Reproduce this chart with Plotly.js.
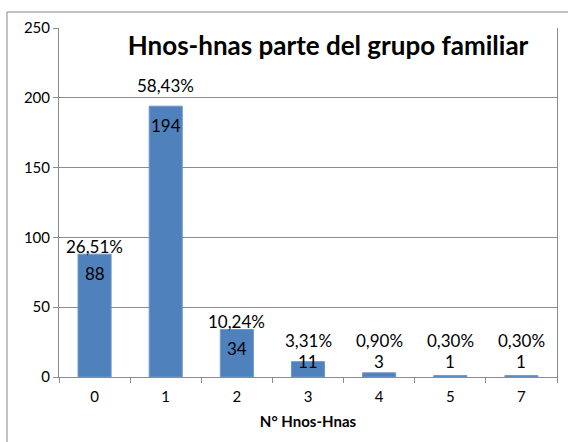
<!DOCTYPE html>
<html>
<head>
<meta charset="utf-8">
<script src="https://cdn.plot.ly/plotly-3.0.1.min.js"></script>
<style>
html,body{margin:0;padding:0;background:#fff;}
#chart{width:568px;height:442px;}
</style>
</head>
<body>
<div id="chart"></div>
<script>
// ---- data ----
const categories = ["0", "1", "2", "3", "4", "5", "7"];
const counts = [88, 194, 34, 11, 3, 1, 1];
const percentLabels = ["26,51%", "58,43%", "10,24%", "3,31%", "0,90%", "0,30%", "0,30%"];
const yTickValues = [0, 50, 100, 150, 200, 250];

const W = 568, H = 442;
const M = {l: 59, r: 11, t: 28, b: 65};
const plotW = W - M.l - M.r;
const plotH = H - M.t - M.b;
const yMax = 250;
const ppu = plotH / yMax;
const FONT = "Lato, 'Open Sans', sans-serif";

const annotations = [];
categories.forEach((c, i) => {
  const topPx = counts[i] * ppu;
  const countShift = Math.max(-19, 15 - topPx);
  annotations.push({
    x: i, y: counts[i], xref: 'x', yref: 'y',
    text: String(counts[i]), showarrow: false,
    yanchor: 'middle', yshift: countShift,
    font: {family: FONT, size: 17, color: '#000'}
  });
  const countCenter = topPx + countShift;
  let pctCenter = Math.max(topPx + 8, countCenter + 21);
  // keep the percentage label clear of a gridline crossing its middle (place it just above)
  yTickValues.forEach(v => {
    const g = v * ppu;
    if (Math.abs(pctCenter - g) < 5) pctCenter = g + 12;
  });
  annotations.push({
    x: i, y: counts[i], xref: 'x', yref: 'y',
    text: percentLabels[i], showarrow: false,
    yanchor: 'middle', yshift: pctCenter - topPx,
    font: {family: FONT, size: 17, color: '#000'}
  });
});

const trace = {
  type: 'bar',
  x: categories,
  y: counts,
  width: 0.465,
  marker: {color: '#4F81BD', line: {color: '#6E98CC', width: 1}},
  hoverinfo: 'none'
};

const layout = {
  width: W, height: H,
  margin: {l: M.l, r: M.r, t: M.t, b: M.b, pad: 0},
  paper_bgcolor: 'rgba(0,0,0,0)',
  plot_bgcolor: '#fff',
  showlegend: false,
  bargap: 0,
  title: {
    text: '<b>Hnos-hnas parte del grupo familiar</b>',
    font: {family: FONT, size: 26, color: '#000'},
    x: 328 / W, xref: 'container', xanchor: 'center',
    y: 1 - 46 / H, yref: 'container', yanchor: 'middle'
  },
  xaxis: {
    type: 'category',
    range: [-0.5, categories.length - 0.5],
    showline: true, linecolor: '#8c8c8c', linewidth: 1,
    ticks: 'outside', tickson: 'boundaries', ticklen: 5, tickcolor: '#8c8c8c',
    ticklabelstandoff: 6,
    tickfont: {family: FONT, size: 15, color: '#000'},
    showgrid: false, zeroline: false,
    title: {text: '<b>N° Hnos-Hnas</b>', font: {family: FONT, size: 15, color: '#000'}, standoff: 12}
  },
  yaxis: {
    range: [0, yMax], tickvals: yTickValues,
    showline: true, mirror: true, linecolor: '#8c8c8c', linewidth: 1,
    ticks: 'outside', ticklen: 5, tickcolor: '#8c8c8c',
    tickfont: {family: FONT, size: 15, color: '#000'},
    showgrid: true, gridcolor: '#8c8c8c', gridwidth: 1, zeroline: false,
    fixedrange: true
  },
  annotations: annotations,
  shapes: [{
    type: 'rect', xref: 'paper', yref: 'paper',
    x0: (7 - M.l) / plotW, x1: (W + 20 - M.l) / plotW,
    y0: -(H + 20 - M.t - plotH) / plotH, y1: 1 + (M.t - 12) / plotH,
    line: {color: '#868686', width: 1}, fillcolor: 'rgba(0,0,0,0)', layer: 'below'
  }]
};

Plotly.newPlot('chart', [trace], layout, {displayModeBar: false, staticPlot: true});
</script>
</body>
</html>
